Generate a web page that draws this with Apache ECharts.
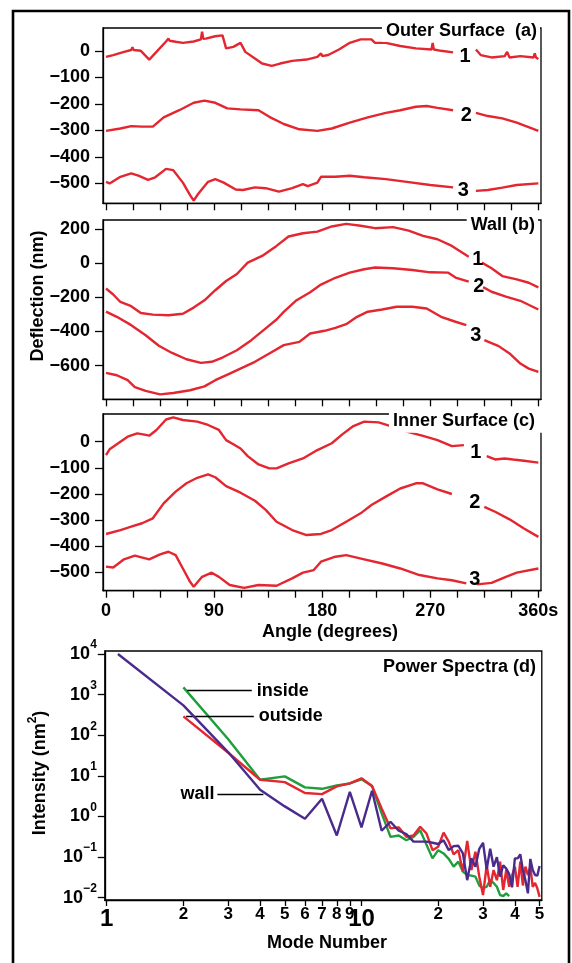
<!DOCTYPE html>
<html><head><meta charset="utf-8">
<script src="https://cdn.jsdelivr.net/npm/echarts@6/dist/echarts.min.js"></script>
<style>html,body{margin:0;padding:0;background:#fff}#chart{width:572px;height:963px}</style>
</head><body><div id="chart"></div>
<script>
// ---------- DATA ----------
// Panel (a) Outer Surface: [angle (deg), deflection (nm)], '-' marks the gap
const outer1 = [[0,-23],[6,-16],[15,-4],[21,3],[22,13],[23,3],[29,0],[36,-33],[42,-4],[50,35],[52,46],[53,38],[58,34],[64,30],[73,35],[79,43],[80,72],[81,45],[83,46],[91,55],[97,58],[100,9],[106,15],[112,30],[116,-4],[124,-29],[130,-48],[138,-57],[145,-48],[155,-38],[167,-33],[176,-23],[179,-10],[180,-20],[185,-16],[194,5],[203,30],[212,43],[221,43],[224,30],[233,30],[245,18],[258,9],[271,5],[272,30],[273,5],[279,0],[289,-6],[298,'-'],[308,5],[312,-16],[321,-25],[332,-20],[334,-4],[336,-25],[345,-20],[356,-25],[357,-10],[358,-25],[360,-31]];
const outer2 = [[0,-302],[12,-293],[21,-284],[30,-286],[39,-286],[48,-251],[61,-224],[73,-196],[82,-188],[91,-196],[101,-217],[112,-221],[127,-224],[136,-249],[148,-276],[161,-296],[176,-302],[188,-293],[203,-271],[218,-251],[233,-234],[245,-224],[258,-211],[267,-208],[276,-215],[289,-224],[298,'-'],[308,-234],[318,-246],[330,-255],[342,-271],[360,-302]];
const outer3 = [[0,-494],[3,-500],[12,-475],[21,-462],[27,-471],[35,-487],[41,-477],[50,-445],[56,-450],[64,-497],[70,-544],[73,-565],[77,-538],[85,-494],[91,-484],[98,-497],[108,-523],[114,-525],[124,-515],[133,-518],[144,-531],[155,-518],[164,-503],[168,-510],[176,-497],[179,-475],[191,-475],[203,-471],[215,-477],[233,-484],[252,-495],[270,-506],[289,-515],[298,'-'],[308,-528],[318,-525],[330,-516],[342,-506],[360,-500]];
// Panel (b) Wall
const wall1 = [[0,-148],[6,-183],[12,-227],[21,-252],[29,-292],[39,-301],[52,-305],[64,-296],[73,-260],[82,-217],[91,-158],[100,-104],[109,-63],[118,4],[130,43],[142,102],[152,157],[164,176],[176,186],[188,216],[200,231],[212,220],[224,206],[239,212],[252,192],[264,161],[276,141],[288,102],[302,39],[307,'-'],[313,4],[321,-29],[330,-75],[342,-94],[352,-114],[360,-141]];
const wall2 = [[0,-284],[9,-314],[21,-363],[33,-422],[44,-484],[55,-526],[67,-563],[79,-584],[88,-578],[97,-553],[109,-510],[121,-451],[133,-382],[142,-330],[148,-285],[158,-220],[170,-170],[179,-125],[191,-85],[203,-55],[215,-35],[224,-25],[239,-29],[255,-39],[270,-53],[285,-55],[291,-84],[302,-108],[307,'-'],[314,-140],[321,-167],[333,-196],[345,-220],[360,-271]];
const wall3 = [[0,-643],[9,-657],[18,-686],[24,-726],[33,-749],[45,-769],[56,-761],[70,-745],[82,-722],[91,-686],[103,-647],[115,-608],[124,-578],[136,-529],[148,-480],[161,-461],[170,-412],[182,-396],[191,-379],[200,-357],[209,-314],[218,-284],[230,-271],[242,-255],[255,-255],[267,-265],[279,-314],[291,-343],[300,-363],[308,'-'],[315,-451],[327,-486],[336,-529],[345,-588],[352,-618],[360,-637]];
// Panel (c) Inner Surface
const inner1 = [[0,-51],[3,-29],[12,0],[18,19],[26,32],[32,27],[36,23],[42,45],[50,85],[56,93],[64,83],[76,77],[85,64],[94,45],[100,6],[106,-10],[112,-26],[118,-55],[127,-87],[136,-102],[142,-102],[152,-83],[164,-64],[176,-32],[188,-6],[197,29],[206,60],[215,77],[227,74],[239,57],[252,37],[264,22],[276,6],[288,-17],[298,-13],[307,'-'],[317,-55],[324,-68],[332,-64],[339,-68],[348,-73],[360,-80]];
const inner2 = [[0,-353],[12,-338],[21,-325],[30,-312],[39,-293],[48,-236],[58,-191],[67,-159],[76,-138],[85,-125],[91,-136],[100,-170],[112,-195],[124,-226],[133,-261],[142,-306],[155,-338],[167,-357],[179,-353],[188,-338],[200,-306],[212,-274],[221,-242],[233,-210],[245,-179],[258,-159],[264,-159],[276,-182],[288,-200],[300,'-'],[315,-249],[324,-268],[336,-297],[348,-332],[360,-364]];
const inner3 = [[0,-478],[6,-481],[15,-450],[24,-436],[36,-450],[45,-431],[52,-421],[58,-434],[64,-485],[70,-536],[73,-555],[80,-517],[88,-501],[94,-517],[103,-548],[115,-559],[127,-548],[142,-551],[155,-523],[164,-501],[173,-491],[179,-459],[191,-440],[200,-434],[215,-450],[230,-466],[245,-485],[261,-510],[276,-523],[288,-530],[300,-542],[304,'-'],[309,-546],[321,-540],[333,-517],[342,-501],[360,-485]];

// Panel (d) Power spectra
const insideModes = [2,3,4,5,6,7,8,9,10,11,12,13,14,15,16,17,18,19,20,21,22,23,24,25,26,27,28,29,30,31,32,33,34,35,36,37,38];
const insideVals  = [1510,80,8.0,9.7,5.2,4.8,5.8,6.5,8.2,5.6,1.19,0.315,0.34,0.26,0.315,0.46,0.2,0.093,0.148,0.123,0.09,0.058,0.077,0.044,0.036,0.035,0.033,0.02,0.017,0.0186,0.027,0.023,0.0186,0.0116,0.011,0.0128,0.011];
const outsideModes = [2,3,4,5,6,7,8,9,10,11,12,13,14,15,16,17,18,19,20,21,22,23,24,25,26,27,28,29,30,31,32,33,34,35,36,37,38,39,40,41,42,43,44,45,46,47,48,49,50];
const outsideVals  = [292,37,8.0,7.0,3.77,3.55,5.5,6.5,8.7,5.6,1.58,0.51,0.54,0.315,0.34,0.56,0.38,0.148,0.18,0.4,0.24,0.117,0.148,0.044,0.25,0.048,0.135,0.033,0.0116,0.063,0.0186,0.048,0.027,0.077,0.0155,0.048,0.0186,0.035,0.058,0.0186,0.077,0.02,0.058,0.036,0.058,0.0186,0.023,0.017,0.0105];
const wallModes = [1.107,2,3,4,5,6,7,8,9,10,11,12,13,14,15,16,17,18,19,20,21,22,23,24,25,26,27,28,29,30,31,32,33,34,35,36,37,38,39,40,41,42,43,44,45,46,47,48,49,50];
const wallVals  = [10000,545,38,4.55,1.77,0.88,2.73,0.34,4.05,0.54,4.3,0.445,0.74,0.445,0.37,0.24,0.24,0.24,0.225,0.21,0.26,0.148,0.186,0.19,0.123,0.027,0.093,0.058,0.16,0.225,0.05,0.16,0.058,0.1,0.033,0.063,0.052,0.038,0.018,0.093,0.093,0.117,0.048,0.027,0.0128,0.09,0.048,0.036,0.035,0.06];

// Tick values / labels
const angleTicks  = [0,22.5,45,67.5,90,112.5,135,157.5,180,202.5,225,247.5,270,292.5,315,337.5,360];
const angleLabels = [0,90,180,270,360];
const outerTicks = [0,-100,-200,-300,-400,-500];
const wallTicks  = [200,0,-200,-400,-600];
const innerTicks = [0,-100,-200,-300,-400,-500];
const modeTicks = [1,2,3,4,5,6,7,8,9,10,20,30,40,50];
const intensityTicks = [0.01,0.1,1,10,100,1000,10000];

// ---------- CHART ----------
const FONT = '"Liberation Sans", Arial, sans-serif';
const RED = '#e3262f', GREEN = '#1f9e3c', PURPLE = '#4a2b8c';
const BF = (s) => 'bold ' + s + 'px ' + FONT;
const chart = echarts.init(document.getElementById('chart'), null, {renderer:'canvas'});

const minus = v => (v < 0 ? '\u2212' + Math.abs(v) : String(v));
const axisLineStyle = {color:'#000', width:1.3};
const labelBase = {color:'#000', fontSize:18, fontWeight:'bold', fontFamily:FONT};

function angleAxis(i, showLabels) {
  return {
    gridIndex:i, type:'value', position:'bottom', min:-2.5, max:362.2,
    axisLine:{show:true, onZero:false, lineStyle:axisLineStyle},
    axisTick:{show:true, inside:false, length:7, customValues:angleTicks, lineStyle:axisLineStyle},
    axisLabel:Object.assign({show:showLabels, customValues:angleLabels, margin:11,
      formatter:v => (v === 360 ? '360s' : String(v))}, labelBase),
    splitLine:{show:false}
  };
}
function deflAxis(i, min, max, ticks) {
  return {
    gridIndex:i, type:'value', position:'left', min, max,
    axisLine:{show:true, onZero:false, lineStyle:axisLineStyle},
    axisTick:{show:true, inside:false, length:8, customValues:ticks, lineStyle:axisLineStyle},
    axisLabel:Object.assign({show:true, customValues:ticks, margin:13, formatter:minus}, labelBase),
    splitLine:{show:false}
  };
}
function trace(data, i, name, coord) {
  return {
    type:'line', xAxisIndex:i, yAxisIndex:i, data, symbol:'none', showSymbol:false,
    connectNulls:false, lineStyle:{color:RED, width:2.4}, itemStyle:{color:RED},
    emphasis:{disabled:true}, silent:true, z:3,
    markPoint:{symbol:'rect', symbolSize:1, itemStyle:{color:'rgba(0,0,0,0)'}, silent:true,
      label:{show:true, position:'inside', formatter:'{b}', color:'#000', fontSize:20, fontWeight:'bold', fontFamily:FONT},
      data:[{name, coord}]}
  };
}
function leader(text, y, x0, x1, pos) {
  return {silent:true, symbol:['none','none'],
    lineStyle:{color:'#000', width:1.3, type:'solid'},
    label:{show:true, position:pos, formatter:text, distance:pos === 'end' ? 5 : 3, color:'#000', fontSize:18, fontWeight:'bold', fontFamily:FONT},
    emphasis:{disabled:true},
    data:[[{coord:[x0, y]}, {coord:[x1, y]}]]};
}
const pairs = (xs, ys) => xs.map((x, k) => [x, ys[k]]);

const gridBase = {show:true, borderColor:'#000', borderWidth:1.3, backgroundColor:'transparent', containLabel:false, outerBoundsMode:'none'};
const option = {
  animation:false,
  backgroundColor:'#fff',
  grid:[
    Object.assign({left:103, top:28, width:438, height:175.3}, gridBase),
    Object.assign({left:103, top:220, width:438, height:179.3}, gridBase),
    Object.assign({left:103, top:414, width:438, height:176.7}, gridBase),
    Object.assign({left:104.8, top:651, width:437, height:249}, gridBase)
  ],
  xAxis:[
    angleAxis(0, false), angleAxis(1, false), angleAxis(2, true),
    {gridIndex:3, type:'log', logBase:10, position:'bottom', min:0.983, max:51.02,
     axisLine:{show:true, onZero:false, lineStyle:axisLineStyle},
     axisTick:{show:true, inside:false, length:6, customValues:modeTicks, lineStyle:axisLineStyle},
     axisLabel:{show:true, customValues:modeTicks, margin:6, color:'#000',
       formatter:v => (v === 1 || v === 10) ? '{big|' + v + '}' : '{sm|' + (v > 10 ? Math.round(v / 10) : v) + '}',
       rich:{sm:{fontSize:17, fontWeight:'bold', fontFamily:FONT, lineHeight:17, color:'#000'},
             big:{fontSize:24, fontWeight:'bold', fontFamily:FONT, lineHeight:24, padding:[3,0,0,0], color:'#000'}}},
     splitLine:{show:false}}
  ],
  yAxis:[
    deflAxis(0, -575, 86, outerTicks),
    deflAxis(1, -798, 254, wallTicks),
    deflAxis(2, -570, 106, innerTicks),
    {gridIndex:3, type:'log', logBase:10, position:'left', min:0.008777, max:11854,
     axisLine:{show:true, onZero:false, lineStyle:axisLineStyle},
     axisTick:{show:true, inside:false, length:7, customValues:intensityTicks, lineStyle:axisLineStyle},
     axisLabel:{show:true, customValues:intensityTicks, margin:8, color:'#000',
       formatter:v => { const e = Math.round(Math.log10(v)); return '{b|10}{s|' + (e < 0 ? '\u2212' + (-e) : e) + '}'; },
       rich:{b:{fontSize:18, fontWeight:'bold', fontFamily:FONT, lineHeight:30, color:'#000'},
             s:{fontSize:12, fontWeight:'bold', fontFamily:FONT, lineHeight:12, verticalAlign:'top', color:'#000'}}},
     splitLine:{show:false}}
  ],
  series:[
    trace(outer1, 0, '1', [299, -23]),
    trace(outer2, 0, '2', [300, -245]),
    trace(outer3, 0, '3', [297.5, -525]),
    trace(wall1, 1, '1', [309.5, 20]),
    trace(wall2, 1, '2', [310.5, -134]),
    trace(wall3, 1, '3', [308, -423]),
    trace(inner1, 2, '1', [308, -41]),
    trace(inner2, 2, '2', [307, -232]),
    trace(inner3, 2, '3', [307, -529]),
    {type:'line', name:'inside', xAxisIndex:3, yAxisIndex:3, data:pairs(insideModes, insideVals),
     symbol:'none', showSymbol:false, lineStyle:{color:GREEN, width:2.4}, itemStyle:{color:GREEN}, silent:true, z:3,
     markLine:leader('inside', 1247, 2.07, 3.71, 'end')},
    {type:'line', name:'outside', xAxisIndex:3, yAxisIndex:3, data:pairs(outsideModes, outsideVals),
     symbol:'none', showSymbol:false, lineStyle:{color:RED, width:2.4}, itemStyle:{color:RED}, silent:true, z:4,
     markLine:leader('outside', 292, 2.05, 3.78, 'end')},
    {type:'line', name:'wall', xAxisIndex:3, yAxisIndex:3, data:pairs(wallModes, wallVals),
     symbol:'none', showSymbol:false, lineStyle:{color:PURPLE, width:2.4}, itemStyle:{color:PURPLE}, silent:true, z:5,
     markLine:leader('wall', 3.62, 2.72, 4.12, 'start')}
  ],
  graphic:[
    {type:'rect', z:100, silent:true, shape:{x:13, y:11, width:556, height:1000},
     style:{fill:'none', stroke:'#000', lineWidth:2.6}},
    {type:'text', z:101, silent:true, x:540, y:30.7,
     style:{text:'Outer Surface  (a)', font:BF(18), fill:'#000', align:'right', verticalAlign:'middle', backgroundColor:'#fff', padding:[2,3,2,4]}},
    {type:'text', z:101, silent:true, x:538, y:225,
     style:{text:'Wall (b)', font:BF(18), fill:'#000', align:'right', verticalAlign:'middle', backgroundColor:'#fff', padding:[2,3,2,4]}},
    {type:'text', z:101, silent:true, x:544, y:420.7,
     style:{text:'Inner Surface (c)', font:BF(18), fill:'#000', align:'right', verticalAlign:'middle', backgroundColor:'#fff', padding:[3,9,3,4]}},
    {type:'text', z:101, silent:true, x:536, y:667,
     style:{text:'Power Spectra (d)', font:BF(18), fill:'#000', align:'right', verticalAlign:'middle'}},
    {type:'text', z:101, silent:true, x:38, y:296, rotation:Math.PI / 2,
     style:{text:'Deflection (nm)', font:BF(18), fill:'#000', align:'center', verticalAlign:'middle'}},
    {type:'text', z:101, silent:true, x:330, y:632,
     style:{text:'Angle (degrees)', font:BF(18), fill:'#000', align:'center', verticalAlign:'middle'}},
    {type:'text', z:101, silent:true, x:327, y:943,
     style:{text:'Mode Number', font:BF(18), fill:'#000', align:'center', verticalAlign:'middle'}},
    {type:'text', z:101, silent:true, x:40, y:773, rotation:Math.PI / 2,
     style:{text:'{a|Intensity (nm}{s|2}{a|)}', font:BF(18), fill:'#000', align:'center', verticalAlign:'middle',
       rich:{a:{fontSize:18, fontWeight:'bold', fontFamily:FONT, lineHeight:26},
             s:{fontSize:12, fontWeight:'bold', fontFamily:FONT, lineHeight:12, verticalAlign:'top'}}}}
  ]
};
chart.setOption(option);
</script></body></html>
